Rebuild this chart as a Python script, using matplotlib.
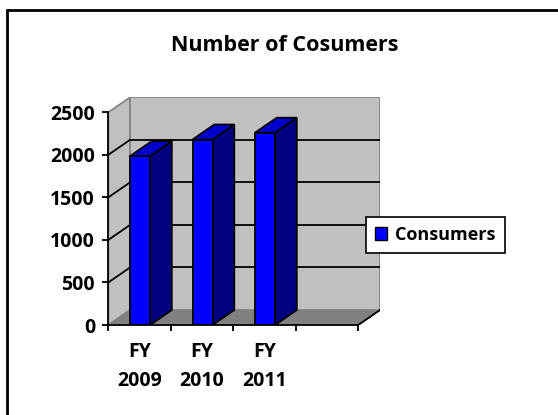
import matplotlib
matplotlib.use("Agg")
import matplotlib.pyplot as plt
from matplotlib.patches import Polygon, Rectangle, Patch

plt.rcParams['font.family'] = ['Open Sans', 'DejaVu Sans']
plt.rcParams['font.weight'] = 'bold'

# data
years = ["FY\n2009", "FY\n2010", "FY\n2011"]
consumers = [1985, 2180, 2260]
yticks = [0, 500, 1000, 1500, 2000, 2500]
n_slots = 4          # excel leaves an empty 4th slot

# fake 3d depth (in data units)
DX = 0.348
DY = 176
YMAX = 2500
bar_off = 0.348
bar_w = 0.32

fig = plt.figure(figsize=(5.58, 4.15), dpi=100)
ax = fig.add_axes([108.3 / 558, 90 / 415, (380 - 108.3) / 558, (325 - 97.3) / 415])
ax.set_xlim(0, n_slots + DX)
ax.set_ylim(0, YMAX + DY)

# walls and floor
ax.add_patch(Polygon([(0, 0), (n_slots, 0), (n_slots + DX, DY), (DX, DY)],
                     closed=True, fc='#808080', ec='#808080', lw=1, zorder=1))
ax.add_patch(Polygon([(0, 0), (DX, DY), (DX, YMAX + DY), (0, YMAX)],
                     closed=True, fc='#c0c0c0', ec='#808080', lw=1.2, zorder=1))
ax.add_patch(Rectangle((DX, DY), n_slots, YMAX, fc='#c0c0c0', ec='#808080', lw=1.2, zorder=1))

# gridlines on back + side wall
for v in yticks[1:-1]:
    ax.plot([DX, n_slots + DX], [v + DY, v + DY], color='black', lw=1.3, zorder=2)
    ax.plot([0, DX], [v, v + DY], color='black', lw=1.3, zorder=2)
ax.plot([n_slots, n_slots + DX], [0, DY], color='black', lw=1.3, zorder=2)
ax.plot([0, DX], [0, DY], color='#808080', lw=1, zorder=2)

# bars
for i, v in enumerate(consumers):
    x0 = i + bar_off
    x1 = x0 + bar_w
    ax.add_patch(Polygon([(x1, 0), (x1 + DX, DY), (x1 + DX, v + DY), (x1, v)],
                         closed=True, fc='#000080', ec='black', lw=1.3, zorder=3))
    ax.add_patch(Polygon([(x0, v), (x1, v), (x1 + DX, v + DY), (x0 + DX, v + DY)],
                         closed=True, fc='#0000cc', ec='black', lw=1.3, zorder=3))
    ax.add_patch(Rectangle((x0, 0), bar_w, v, fc='#0000ff', ec='black', lw=1.3, zorder=4))

# axes
for s in ['top', 'right']:
    ax.spines[s].set_visible(False)
ax.spines['left'].set_bounds(0, YMAX)
ax.spines['bottom'].set_bounds(0, n_slots)
ax.spines['left'].set_linewidth(1.3)
ax.spines['bottom'].set_linewidth(1.3)
ax.spines['left'].set_zorder(5)
ax.spines['bottom'].set_zorder(5)
ax.patch.set_visible(False)

ax.set_yticks(yticks)
ax.set_yticklabels([str(t) for t in yticks], fontsize=14, fontweight='bold')
ax.tick_params(axis='y', length=4, width=1.3, pad=5.5)
ax.set_xticks(range(n_slots + 1))
ax.set_xticklabels([''] * (n_slots + 1))
ax.tick_params(axis='x', which='major', length=4, width=1.3)
ax.set_xticks([i + 0.5 for i in range(len(years))], minor=True)
ax.set_xticklabels(years, minor=True, fontsize=14, fontweight='bold', linespacing=1.6)
ax.tick_params(axis='x', which='minor', length=0, pad=12)

fig.text(285 / 558, 1 - 51 / 415, "Number of Cosumers", ha='center', va='baseline',
         fontsize=15.5, fontweight='bold')

leg = fig.legend(handles=[Patch(fc='#0000ff', ec='black', lw=1)], labels=['Consumers'],
                 loc='center left', bbox_to_anchor=(366 / 558, 1 - 235 / 415),
                 fontsize=13, frameon=True, fancybox=False, framealpha=1,
                 handlelength=0.67, handleheight=0.7, handletextpad=0.45,
                 borderpad=0.5, borderaxespad=0)
leg.get_frame().set_edgecolor('black')
leg.get_frame().set_linewidth(1.2)
for t in leg.get_texts():
    t.set_fontweight('bold')

# chart area border (only top/left visible in the crop)
fig.add_artist(Rectangle((7 / 558, -0.5), 2, 0.5 + 1 - 10 / 415, transform=fig.transFigure,
                         fill=False, ec='black', lw=2))

fig.savefig("out.png", dpi=100)
